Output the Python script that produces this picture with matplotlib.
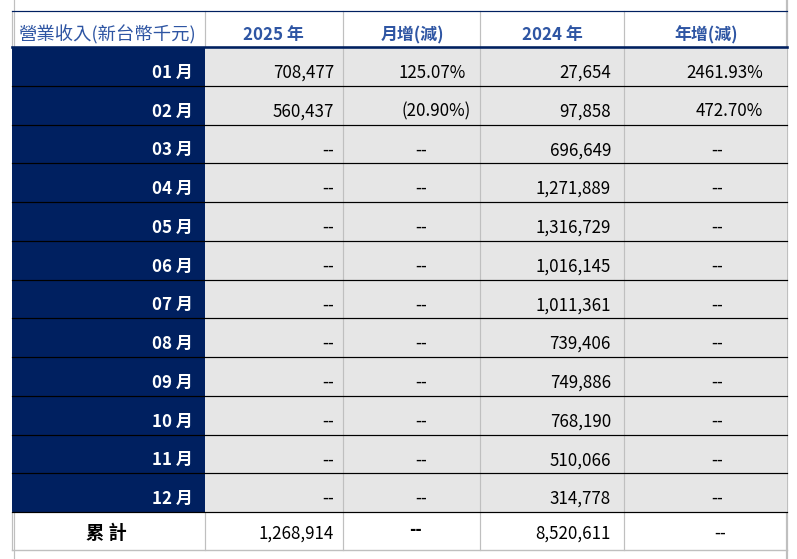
import matplotlib.pyplot as plt
from matplotlib.patches import Rectangle

plt.rcParams['font.family'] = ['Noto Sans CJK TC', 'DejaVu Sans']

# table content
headers = ['營業收入(新台幣千元)', '2025 年', '月增(減)', '2024 年', '年增(減)']
months = ['01 月', '02 月', '03 月', '04 月', '05 月', '06 月',
          '07 月', '08 月', '09 月', '10 月', '11 月', '12 月']
rev_2025 = [708477, 560437, None, None, None, None, None, None, None, None, None, None]
mom_pct = [125.07, -20.90, None, None, None, None, None, None, None, None, None, None]
rev_2024 = [27654, 97858, 696649, 1271889, 1316729, 1016145,
            1011361, 739406, 749886, 768190, 510066, 314778]
yoy_pct = [2461.93, 472.70, None, None, None, None, None, None, None, None, None, None]
total_label = '累 計'

NAVY = '#002060'
HEAD_BLUE = '#2E55A3'
GREY_FILL = '#E6E6E6'
GRID = '#BFBFBF'


def fmt_num(v):
    return '--' if v is None else f'{v:,}'


def fmt_pct(v):
    if v is None:
        return '--'
    if v < 0:
        return f'({abs(v):.2f}%)'
    return f'{v:.2f}%'


# layout (pixels)
W, H = 797, 559
cols = [12, 205, 343, 480, 624, 787]
head_top, head_bot = 11, 47
row_h = (512 - head_bot) / 12
total_bot = 550
px = 0.72  # one pixel in points

fig = plt.figure(figsize=(W / 100, H / 100), dpi=100)
ax = fig.add_axes([0, 0, 1, 1])
ax.set_xlim(0, W)
ax.set_ylim(H, 0)
ax.axis('off')

data_bot = head_bot + 12 * row_h

# sheet gridlines behind the table
ax.plot([14, 14], [0, H], color=GRID, lw=1.2 * px, zorder=0)
ax.plot([787, 787], [0, H], color=GRID, lw=2.2 * px, zorder=0)

# fills
ax.add_patch(Rectangle((cols[0], head_bot), cols[1] - cols[0], data_bot - head_bot,
                       color=NAVY, lw=0, zorder=1))
ax.add_patch(Rectangle((cols[1], head_bot), cols[-1] - cols[1], data_bot - head_bot,
                       color=GREY_FILL, lw=0, zorder=1))

# vertical lines
for x in cols[2:5]:
    ax.plot([x, x], [head_top, total_bot], color=GRID, lw=1.2 * px, zorder=2)
for y0, y1 in [(head_top, head_bot), (data_bot, total_bot)]:
    ax.plot([cols[1], cols[1]], [y0, y1], color=GRID, lw=1.2 * px, zorder=2)
    ax.plot([cols[0], cols[0]], [y0, y1], color=GRID, lw=1.2 * px, zorder=2)

# horizontal lines
ax.plot([cols[0], cols[-1]], [head_top, head_top], color=NAVY, lw=1.2 * px, zorder=3)
for i in range(1, 13):
    y = head_bot + i * row_h
    ax.plot([cols[0], cols[-1]], [y, y], color='black', lw=1.2 * px, zorder=3)
ax.plot([cols[0], cols[-1]], [head_bot, head_bot], color=NAVY, lw=2.6 * px, zorder=4)
ax.plot([cols[0], cols[-1]], [total_bot, total_bot], color=GRID, lw=1.4 * px, zorder=3)

# header text
fs = 12.2
hy = head_bot - 7
ax.text(107, hy, headers[0], ha='center', va='baseline', fontsize=13.2,
        color=HEAD_BLUE, zorder=5)
for j, x in zip(range(1, 5), [273, 412, 552, 706]):
    ax.text(x, hy, headers[j], ha='center', va='baseline', fontsize=fs,
            color=HEAD_BLUE, fontweight='bold', zorder=5)

# body
for i in range(12):
    yb = head_bot + (i + 1) * row_h - 8
    ax.text(193, yb, months[i], ha='right', va='baseline', fontsize=fs,
            color='white', fontweight='bold', zorder=5)
    ax.text(334, yb, fmt_num(rev_2025[i]), ha='right', va='baseline', fontsize=fs, zorder=5)
    s = fmt_pct(mom_pct[i])
    if s == '--':
        ax.text(421, yb, s, ha='center', va='baseline', fontsize=fs, zorder=5)
    else:
        ax.text(471 if s.startswith('(') else 466, yb, s, ha='right', va='baseline',
                fontsize=fs, zorder=5)
    ax.text(611, yb, fmt_num(rev_2024[i]), ha='right', va='baseline', fontsize=fs, zorder=5)
    s = fmt_pct(yoy_pct[i])
    if s == '--':
        ax.text(717, yb, s, ha='center', va='baseline', fontsize=fs, zorder=5)
    else:
        ax.text(763, yb, s, ha='right', va='baseline', fontsize=fs, zorder=5)

# total row
ty = total_bot - 11
tot_2025 = sum(v for v in rev_2025 if v is not None)
tot_2024 = sum(rev_2024)
ax.text(106, ty, total_label, ha='center', va='baseline', fontsize=fs + 1,
        fontweight='bold', zorder=5)
ax.text(334, ty, f'{tot_2025:,}', ha='right', va='baseline', fontsize=fs, zorder=5)
ax.text(416, ty - 4, '--', ha='center', va='baseline', fontsize=fs,
        fontweight='bold', zorder=5)
ax.text(611, ty, f'{tot_2024:,}', ha='right', va='baseline', fontsize=fs, zorder=5)
ax.text(720, ty, '--', ha='center', va='baseline', fontsize=fs, zorder=5)

fig.savefig('out.png', dpi=100, facecolor='white')
